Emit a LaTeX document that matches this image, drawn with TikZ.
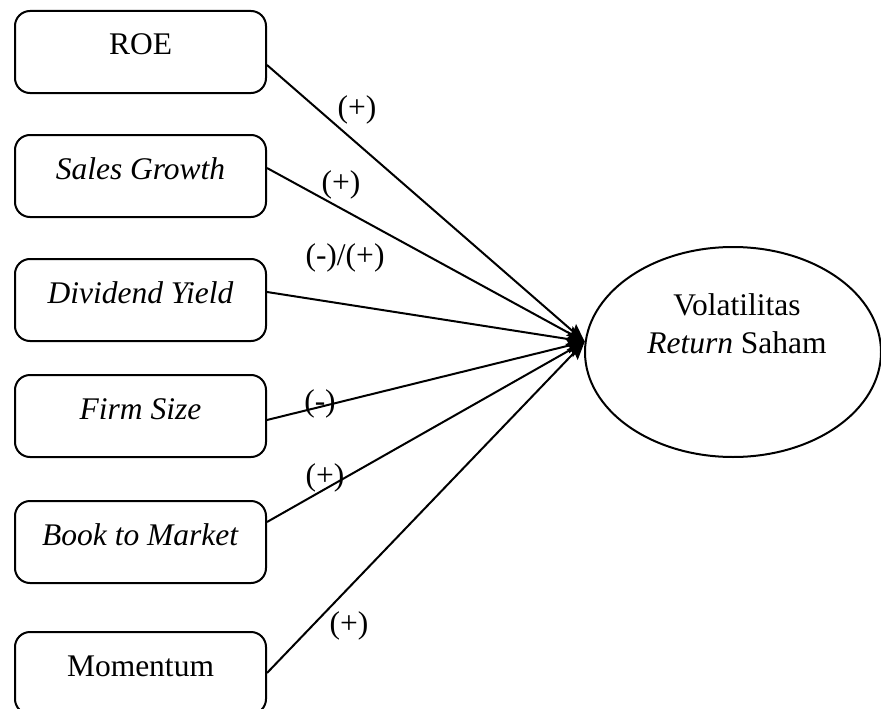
\documentclass[tikz,border=0pt]{standalone}
\usepackage{fontspec}
\setmainfont{Liberation Serif}
\usetikzlibrary{shapes.geometric,arrows.meta}
\tikzset{
    varbox/.style={draw,rounded corners=15pt,line width=2pt,minimum width=251pt,minimum height=82pt,inner sep=0pt,text height=22pt,text depth=16pt},
    outcome/.style={draw,ellipse,line width=2pt,minimum width=296pt,minimum height=210pt},
    sign/.style={inner sep=0pt},
    link/.style={line width=2pt,-{Stealth[length=18pt,width=15pt,inset=3pt]}}
}
\begin{document}
\begin{tikzpicture}[x=1pt,y=-1pt,font=\fontsize{31.5}{38}\selectfont]
    \useasboundingbox (0,0) rectangle (881,709);
    % variabel independen
    \foreach \nm/\y/\txt in {roe/52/ROE, sales/176/\textit{Sales Growth}, dy/300/\textit{Dividend Yield},
        size/416/\textit{Firm Size}, btm/542/\textit{Book to Market}, mom/673/Momentum}
        {
            \node[varbox] (\nm) at (140.5,\y) {\txt};
        }
    % variabel dependen
    \node[outcome] (vol) at (733,352) {};
    \node[align=center] (voltext) at (737,324) {Volatilitas\\\textit{Return} Saham};
    \foreach \nm/\dy in {roe/-13,sales/8,dy/8,size/-4,btm/20,mom/0}
        {
            \draw[link] ([yshift=\dy pt]\nm.east) -- (vol.176);
        }
    \node[sign] (s1) at (357,110) {(+)};
    \node[sign] (s2) at (341,185) {(+)};
    \node[sign] (s3) at (345,258) {(-)/(+)};
    \node[sign] (s4) at (320,404) {(-)};
    \node[sign] (s5) at (325,478) {(+)};
    \node[sign] (s6) at (349,626) {(+)};
\end{tikzpicture}
\end{document}
